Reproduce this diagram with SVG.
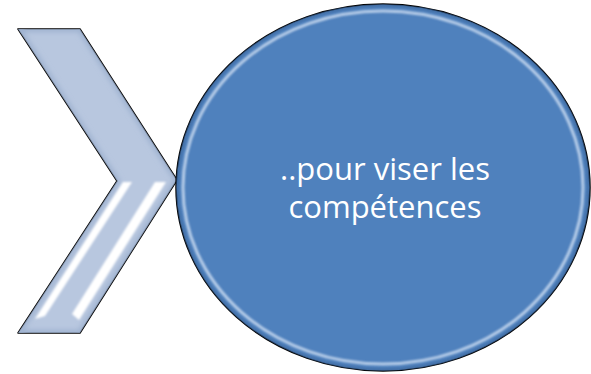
<svg xmlns="http://www.w3.org/2000/svg" width="591" height="374" viewBox="0 0 591 374">
  <style>
    .outline { stroke: #000; stroke-width: 1.5; stroke-linejoin: round; }
    .label { font-family: "Open Sans", "Liberation Sans", sans-serif; font-size: 31px; fill: #fff; text-anchor: middle; }
  </style>
  <defs>
    <filter id="soft" x="-20%" y="-20%" width="140%" height="140%">
      <feGaussianBlur stdDeviation="1.2"/>
    </filter>
    <filter id="softer" x="-10%" y="-10%" width="120%" height="120%">
      <feGaussianBlur stdDeviation="2.5"/>
    </filter>
    <clipPath id="circleClip">
      <ellipse cx="383" cy="187.5" rx="207" ry="183.5"/>
    </clipPath>
    <clipPath id="chevClip">
      <polygon points="18,29 80,29 177,180 80,333 18,333 117,181"/>
    </clipPath>
  </defs>

  <!-- chevron -->
  <g id="chevron">
    <polygon class="outline" points="18,29 80,29 177,180 80,333 18,333 117,181" fill="#B8C7DF"/>
    <g clip-path="url(#chevClip)">
      <!-- bevel shading along the edges -->
      <polygon points="18,29 80,29 177,180 80,333 18,333 117,181" fill="none" stroke="#9FB2D0" stroke-width="6" filter="url(#softer)"/>
      <!-- highlight strips on the lower arm -->
      <polygon points="123,182 132,182 45,316 35,319" fill="#fff" filter="url(#soft)"/>
      <polygon points="155,182 166,182 79,320 72,314" fill="#fff" filter="url(#soft)"/>
    </g>
  </g>

  <!-- circle -->
  <g id="circle">
    <ellipse class="outline" cx="383" cy="187.5" rx="207" ry="183.5" fill="#4F81BD"/>
    <g clip-path="url(#circleClip)">
      <ellipse cx="383" cy="187.5" rx="200" ry="176.5" fill="none" stroke="#DCE8F8" stroke-width="3" opacity="0.75" filter="url(#soft)"/>
      <ellipse cx="383" cy="187.5" rx="207" ry="183.5" fill="none" stroke="#3A6397" stroke-width="5" opacity="0.6" filter="url(#soft)"/>
    </g>
    <text class="label" x="385" y="180">..pour viser les</text>
    <text class="label" x="385" y="218">compétences</text>
  </g>
</svg>
